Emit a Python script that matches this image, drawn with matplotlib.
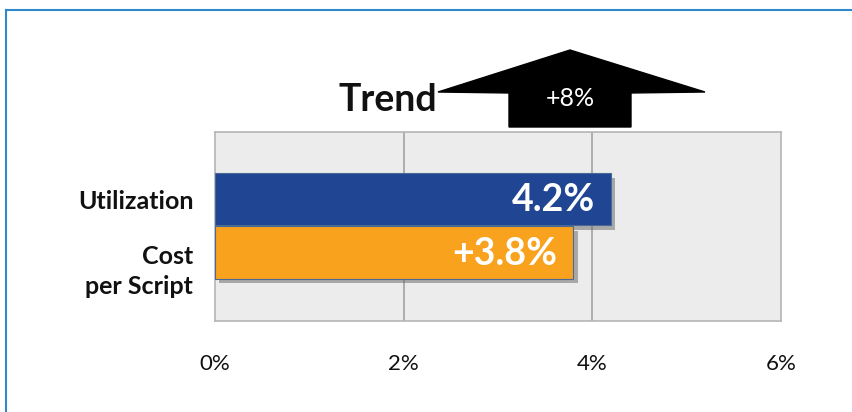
import matplotlib
matplotlib.use("Agg")
import matplotlib.pyplot as plt
from matplotlib.patches import Polygon
from matplotlib.lines import Line2D
import matplotlib.patheffects as pe

plt.rcParams['font.family'] = ['Lato', 'DejaVu Sans']

# data
categories = ["Utilization", "Cost\nper Script"]
values = [4.2, 3.8]
value_labels = ["4.2%", "+3.8%"]
bar_colors = ["#1f4593", "#f8a21e"]
ticks = [0, 2, 4, 6]
tick_labels = ["0%", "2%", "4%", "6%"]
trend_label = "+8%"

W, H = 853, 412
fig = plt.figure(figsize=(W / 100, H / 100), dpi=100)

def px(x, y):
    # pixel position (from top-left) to figure fraction
    return (x / W, 1 - y / H)

# thin blue frame on top and left
fig.add_artist(Line2D([6 / W, 1], [1 - 10 / H, 1 - 10 / H], color="#2f88cc", lw=1.5))
fig.add_artist(Line2D([6 / W, 6 / W], [0, 1 - 10 / H], color="#2f88cc", lw=1.5))

ax = fig.add_axes([215 / W, 1 - 321 / H, 566 / W, 189 / H])
ax.set_facecolor("#ececec")
for s in ax.spines.values():
    s.set_color("#b5b5b5")
    s.set_linewidth(1.2)

ax.set_xlim(0, 6)
ax.set_ylim(-1.29, 2.27)
for t in ticks[1:-1]:
    ax.axvline(t, color="#a8a8a8", lw=1.3, zorder=1)

ypos = [1, 0]
shadow = [pe.SimplePatchShadow(offset=(3, -3), shadow_rgbFace="#666666", alpha=0.5), pe.Normal()]
bars = ax.barh(ypos, values, height=0.98, color=bar_colors, edgecolor="#4a6a95", linewidth=0.8, zorder=3)
for b in bars:
    b.set_path_effects(shadow)

for y, v, lab in zip(ypos, values, value_labels):
    ax.text(v - 0.17, y - 0.02, lab, ha="right", va="center", color="white",
            fontsize=27, fontweight="bold", zorder=4)

ax.set_xticks(ticks)
ax.set_xticklabels(tick_labels, fontsize=16, color="#111111")
ax.tick_params(axis="x", length=0, pad=24)
ax.set_yticks([])

# category labels left of the bars
label_offsets = [-0.03, -0.36]
for y, off, cat in zip(ypos, label_offsets, categories):
    ax.text(-0.23, y + off, cat, ha="right", va="center", fontsize=18,
            fontweight="bold", color="#111111", linespacing=1.35,
            multialignment="right")

# trend arrow above the chart
arrow_pts = [(438, 92), (570, 50), (705, 92), (631, 93), (631, 127), (509, 127), (509, 93)]
fig.add_artist(Polygon([px(x, y) for x, y in arrow_pts], closed=True,
                       transform=fig.transFigure, facecolor="black", edgecolor="black"))
fig.text(*px(570, 99), trend_label, ha="center", va="center", color="white", fontsize=18)
fig.text(*px(437, 100), "Trend", ha="right", va="center", color="#111111",
         fontsize=27, fontweight="bold")

fig.savefig("out.png", dpi=100)
